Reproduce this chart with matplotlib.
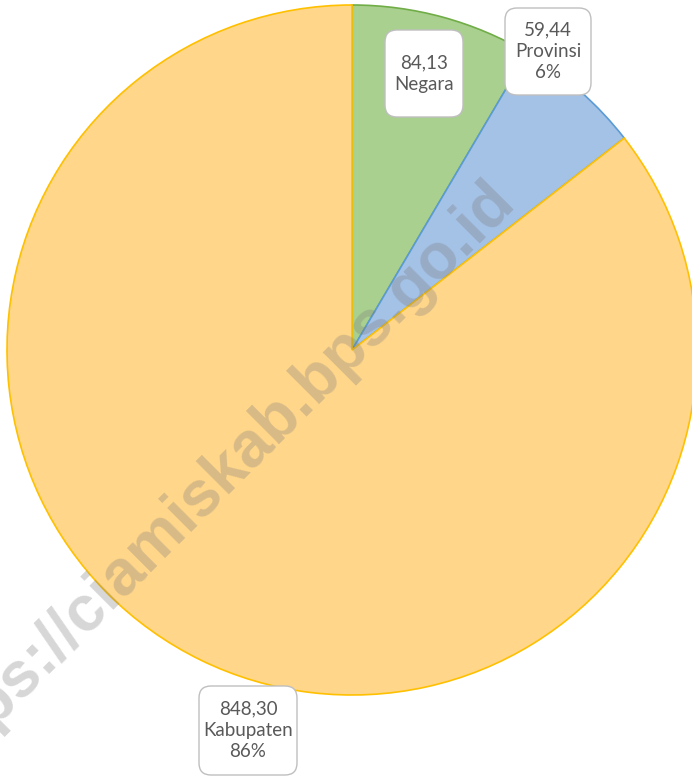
import matplotlib
matplotlib.use("Agg")
import matplotlib.pyplot as plt
from matplotlib.patches import FancyBboxPatch

# Data
labels = ["Negara", "Provinsi", "Kabupaten"]
values = [84.13, 59.44, 848.30]
show_pct = [False, True, True]

fill_colors = ["#A9D08F", "#A4C1E6", "#FFD68A"]
edge_colors = ["#70AD47", "#5B9BD5", "#FFC000"]

# label box layout (pixel coords, origin top-left): x0, y0, x1, y1
boxes = [(385, 30, 463, 117), (505, 8, 591, 95), (199, 686, 297, 775)]

W, H = 692, 776
fig = plt.figure(figsize=(W / 100, H / 100), dpi=100)
ax = fig.add_axes([0, 0, 1, 1])

wedges, _ = ax.pie(values, colors=fill_colors, startangle=90, counterclock=False,
                   center=(352, H - 350), radius=345,
                   wedgeprops=dict(linewidth=1.2))
for w, ec in zip(wedges, edge_colors):
    w.set_edgecolor(ec)
# Kabupaten on top so its gold edges show
wedges[2].set_zorder(3)
wedges[1].set_zorder(2)
wedges[0].set_zorder(1)

ax.set_xlim(0, W)
ax.set_ylim(0, H)
ax.set_aspect("equal")
ax.axis("off")

total = sum(values)
for lab, val, sp, (x0, y0, x1, y1) in zip(labels, values, show_pct, boxes):
    txt = f"{val:.2f}".replace(".", ",") + "\n" + lab
    if sp:
        txt += f"\n{round(val / total * 100):.0f}%"
    box = FancyBboxPatch((x0, H - y1), x1 - x0, y1 - y0,
                         boxstyle="round,pad=0,rounding_size=12",
                         facecolor="white", edgecolor="#BFBFBF", linewidth=1.0, zorder=5)
    ax.add_patch(box)
    ax.text((x0 + x1) / 2, H - (y0 + y1) / 2, txt, ha="center", va="center",
            fontsize=13.5, family="Lato", color="#595959", linespacing=1.32, zorder=6)

# watermark
ax.text(517, H - 203, "https://ciamiskab.bps.go.id", rotation=45, rotation_mode="anchor",
        ha="right", va="baseline", fontsize=46, fontweight="bold", family="Liberation Sans",
        color="#7A7A7A", alpha=0.3, zorder=10)

fig.savefig("out.png", dpi=100)
